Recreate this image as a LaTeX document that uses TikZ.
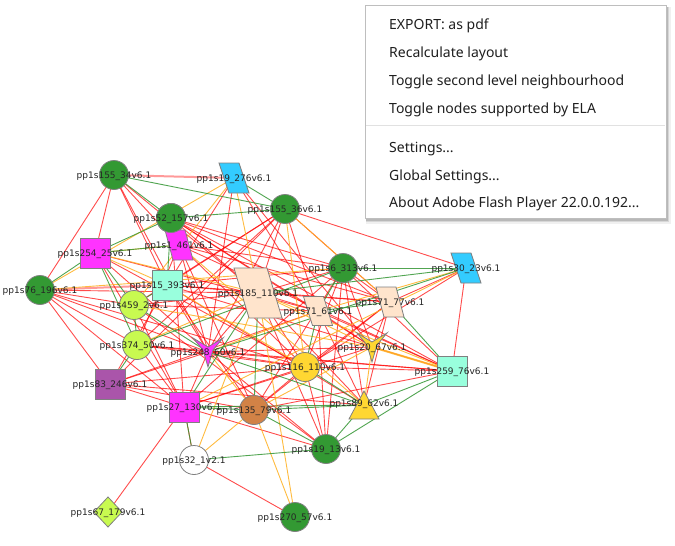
\documentclass[tikz,border=0pt]{standalone}
\usepackage{fontspec}
\setmainfont{DejaVu Sans}
\newfontfamily\menufont{Noto Sans}
\usetikzlibrary{calc}
\pgfdeclarelayer{bg}\pgfdeclarelayer{fg}\pgfsetlayers{bg,main,fg}
\definecolor{cgreen}{RGB}{51,153,51}
\definecolor{cblue}{RGB}{51,204,255}
\definecolor{cmag}{RGB}{255,51,255}
\definecolor{caqua}{RGB}{153,255,221}
\definecolor{cyg}{RGB}{200,250,80}
\definecolor{cpurple}{RGB}{170,85,170}
\definecolor{cpeach}{RGB}{255,228,204}
\definecolor{cyellow}{RGB}{255,215,50}
\definecolor{cbrown}{RGB}{210,130,70}
\definecolor{nodeborder}{RGB}{128,128,128}
\definecolor{ered}{RGB}{255,0,0}
\definecolor{eorange}{RGB}{255,176,30}
\definecolor{egreen}{RGB}{51,150,51}
\definecolor{menuborder}{RGB}{190,190,190}
\definecolor{menusep}{RGB}{225,225,225}
\tikzset{
  redE/.style={draw=ered, draw opacity=0.7, line width=0.9pt},
  pinkE/.style={draw=ered, draw opacity=0.4, line width=2pt},
  orangeE/.style={draw=eorange, draw opacity=0.85, line width=0.9pt},
  greenE/.style={draw=egreen, draw opacity=0.85, line width=0.9pt},
  nodeline/.style={draw=nodeborder, line width=0.8pt},
  circ/.style={circle, nodeline, minimum size=29pt, inner sep=0pt},
  sqr/.style={rectangle, nodeline, minimum size=30pt, inner sep=0pt},
  lbl/.style={font=\fontsize{9}{9}\selectfont, text=black!85, inner sep=0pt},
  menuitem/.style={anchor=base west, font=\menufont\fontsize{14}{14}\selectfont, text=black!88, inner sep=0pt},
}
\newcommand\mypara[5]{%
  \filldraw[nodeline, fill=#5] ($(#1)+({-#2/2-#3/2},{-#4/2})$) -- ($(#1)+({#2/2-#3/2},{-#4/2})$)
   -- ($(#1)+({#2/2+#3/2},{#4/2})$) -- ($(#1)+({-#2/2+#3/2},{#4/2})$) -- cycle;}
\newcommand\myarrowhead[2]{%
  \filldraw[nodeline, fill=#2] ($(#1)+(-15,-14)$) -- ($(#1)+(0,-5)$) -- ($(#1)+(15,-14)$)
   -- ($(#1)+(5,-2)$) -- ($(#1)+(0,15)$) -- ($(#1)+(-5,-2)$) -- cycle;}
\begin{document}
\begin{tikzpicture}[x=1pt,y=-1pt]
\useasboundingbox (0,0) rectangle (675,546);
% ---- nodes ----
\node[circ, fill=cgreen] (n1) at (114,175) {};
\coordinate (n2) at (234,178);
\node[circ, fill=cgreen] (n3) at (285,209) {};
\node[circ, fill=cgreen] (n4) at (171,218) {};
\coordinate (n5) at (179,245);
\node[sqr, fill=cmag] (n6) at (95,253) {};
\node[circ, fill=cgreen] (n7) at (40,290) {};
\node[sqr, fill=caqua] (n8) at (167,285) {};
\node[circ, fill=cyg] (n9) at (134,305) {};
\node[circ, fill=cyg] (n10) at (137,345) {};
\node[sqr, fill=cpurple] (n11) at (110,384) {};
\coordinate (n12) at (208,352);
\node[sqr, fill=cmag] (n13) at (184,407) {};
\node[circ, fill=white] (n14) at (194,460) {};
\coordinate (n15) at (108,512);
\node[circ, fill=cgreen] (n16) at (295,517) {};
\node[circ, fill=cgreen] (n17) at (326,449) {};
\node[circ, fill=cbrown] (n18) at (254,410) {};
\coordinate (n19) at (364,405);
\node[circ, fill=cyellow] (n20) at (305,367) {};
\coordinate (n21) at (372,347);
\node[sqr, fill=caqua] (n22) at (452,371) {};
\coordinate (n23) at (466,268);
\coordinate (n24) at (390,302);
\coordinate (n25) at (318,311);
\node[circ, fill=cgreen] (n26) at (343,268) {};
\coordinate (n27) at (258,293);
\mypara{n2}{20}{10}{30}{cblue}
\mypara{n5}{20}{8}{30}{cmag}
\node[circ, fill=cgreen] at (n4) {};
\mypara{n23}{20}{10}{30}{cblue}
\mypara{n24}{20}{8}{30}{cpeach}
\mypara{n25}{20}{9}{29}{cpeach}
\mypara{n27}{33}{15}{50}{cpeach}
\myarrowhead{n12}{cmag}
\myarrowhead{n21}{cyellow}
\filldraw[nodeline, fill=cyellow] ($(n19)+(0,-14)$) -- ($(n19)+(15,14)$) -- ($(n19)+(-15,14)$) -- cycle;
\filldraw[nodeline, fill=cyg] ($(n15)+(0,-15)$) -- ($(n15)+(14,0)$) -- ($(n15)+(0,15)$) -- ($(n15)+(-14,0)$) -- cycle;
% ---- edges ----
\begin{pgfonlayer}{bg}
\fill[white] (0,0) rectangle (675,546);
\foreach \a/\b in {1/5,1/6,1/7,1/8,1/27,1/12,
 2/8,2/12,2/25,2/21,
 3/23,3/27,3/9,3/10,3/12,3/25,3/8,3/11,3/24,
 4/26,4/27,4/24,4/21,4/25,4/13,4/22,
 5/26,5/24,5/12,5/20,5/22,5/18,5/10,
 6/20,6/12,6/25,6/13,
 7/27,7/9,7/10,7/11,7/12,7/20,7/13,
 8/27,8/26,8/24,8/22,8/12,8/18,8/19,8/11,
 9/27,9/25,9/13,9/17,
 10/12,10/20,10/22,10/13,
 11/12,11/20,11/13,11/18,11/19,11/25,
 12/27,12/13,12/20,12/22,12/21,12/17,
 13/17,13/15,13/20,13/26,13/21,
 14/16,14/13,
 17/26,17/25,17/20,17/27,
 18/20,18/26,18/24,18/22,
 19/24,19/26,19/25,19/27,
 20/27,20/22,20/23,20/26,20/24,
 21/26,21/24,21/25,
 22/23,22/26,22/25,
 23/24,24/26,24/27,25/27,26/27}
 \draw[redE] (n\a.center) -- (n\b.center);
\foreach \a/\b in {1/2,7/8}
 \draw[pinkE] (n\a.center) -- (n\b.center);
\foreach \a/\b in {2/7,2/27,2/9,3/20,3/24,5/6,5/19,6/8,6/27,7/26,8/20,9/21,10/27,
 12/18,12/25,13/23,14/18,14/27,16/18,16/27,18/21,19/21,21/27,22/27,23/25}
 \draw[orangeE] (n\a.center) -- (n\b.center);
\draw[orangeE, line width=2pt] (n21.center) -- (n22.center);
\foreach \a/\b in {1/3,1/4,2/3,3/4,4/6,4/8,5/6,6/7,6/9,6/10,8/9,9/10,9/12,10/11,10/26,
 12/23,12/19,13/18,13/19,13/14,13/27,14/17,17/18,17/19,17/22,18/19,18/27,19/22,
 19/20,20/25,22/24,23/27,23/26,24/25,25/26}
 \draw[greenE] (n\a.center) -- (n\b.center);
\end{pgfonlayer}
% ---- labels ----
\begin{pgfonlayer}{fg}
\node[lbl] (l1) at ($(n1)+(0,1)$) {pp1s155\_34v6.1};
\node[lbl] (l2) at ($(n2)+(0,1)$) {pp1s19\_276v6.1};
\node[lbl] (l3) at ($(n3)+(0,1)$) {pp1s155\_36v6.1};
\node[lbl] (l4) at ($(n4)+(0,1)$) {pp1s52\_157v6.1};
\node[lbl] (l5) at ($(n5)+(0,1)$) {pp1s1\_461v6.1};
\node[lbl] (l6) at ($(n6)+(0,1)$) {pp1s254\_25v6.1};
\node[lbl] (l7) at ($(n7)+(0,1)$) {pp1s76\_196v6.1};
\node[lbl] (l8) at ($(n8)+(0,1)$) {pp1s15\_393v6.1};
\node[lbl] (l9) at ($(n9)+(0,1)$) {pp1s459\_2v6.1};
\node[lbl] (l10) at ($(n10)+(0,1)$) {pp1s374\_50v6.1};
\node[lbl] (l11) at ($(n11)+(0,1)$) {pp1s83\_246v6.1};
\node[lbl] (l12) at ($(n12)+(0,1)$) {pp1s248\_60v6.1};
\node[lbl] (l13) at ($(n13)+(0,1)$) {pp1s27\_130v6.1};
\node[lbl] (l14) at ($(n14)+(0,1)$) {pp1s32\_1v2.1};
\node[lbl] (l15) at ($(n15)+(0,1)$) {pp1s67\_179v6.1};
\node[lbl] (l16) at ($(n16)+(0,1)$) {pp1s270\_57v6.1};
\node[lbl] (l17) at ($(n17)+(0,1)$) {pp1s19\_13v6.1};
\node[lbl] (l18) at ($(n18)+(0,1)$) {pp1s135\_79v6.1};
\node[lbl] (l19) at ($(n19)+(0,-1)$) {pp1s89\_62v6.1};
\node[lbl] (l20) at ($(n20)+(0,1)$) {pp1s116\_110v6.1};
\node[lbl] (l21) at ($(n21)+(0,1)$) {pp1s20\_67v6.1};
\node[lbl] (l22) at ($(n22)+(0,1)$) {pp1s259\_76v6.1};
\node[lbl] (l23) at ($(n23)+(0,1)$) {pp1s30\_23v6.1};
\node[lbl] (l24) at ($(n24)+(0,1)$) {pp1s71\_77v6.1};
\node[lbl] (l25) at ($(n25)+(0,1)$) {pp1s71\_61v6.1};
\node[lbl] (l26) at ($(n26)+(0,1)$) {pp1s6\_313v6.1};
\node[lbl] (l27) at ($(n27)+(0,1)$) {pp1s185\_110v6.1};
% ---- context menu ----
\fill[black, opacity=0.06] (366,7) rectangle (671,224);
\fill[black, opacity=0.10] (366,7) rectangle (669,222);
\fill[black, opacity=0.14] (366,7) rectangle (668,221);
\filldraw[fill=white, draw=menuborder, line width=0.8pt] (365,5) rectangle (666,218);
\draw[menusep, line width=1pt] (366,125) -- (665,125);
\node[menuitem] (m1) at (389,29) {EXPORT: as pdf};
\node[menuitem] (m2) at (389,57) {Recalculate layout};
\node[menuitem] (m3) at (389,85) {Toggle second level neighbourhood};
\node[menuitem] (m4) at (389,113) {Toggle nodes supported by ELA};
\node[menuitem] (m5) at (389,152) {Settings...};
\node[menuitem] (m6) at (389,180) {Global Settings...};
\node[menuitem] (m7) at (389,207) {About Adobe Flash Player 22.0.0.192...};
\end{pgfonlayer}
\end{tikzpicture}
\end{document}
